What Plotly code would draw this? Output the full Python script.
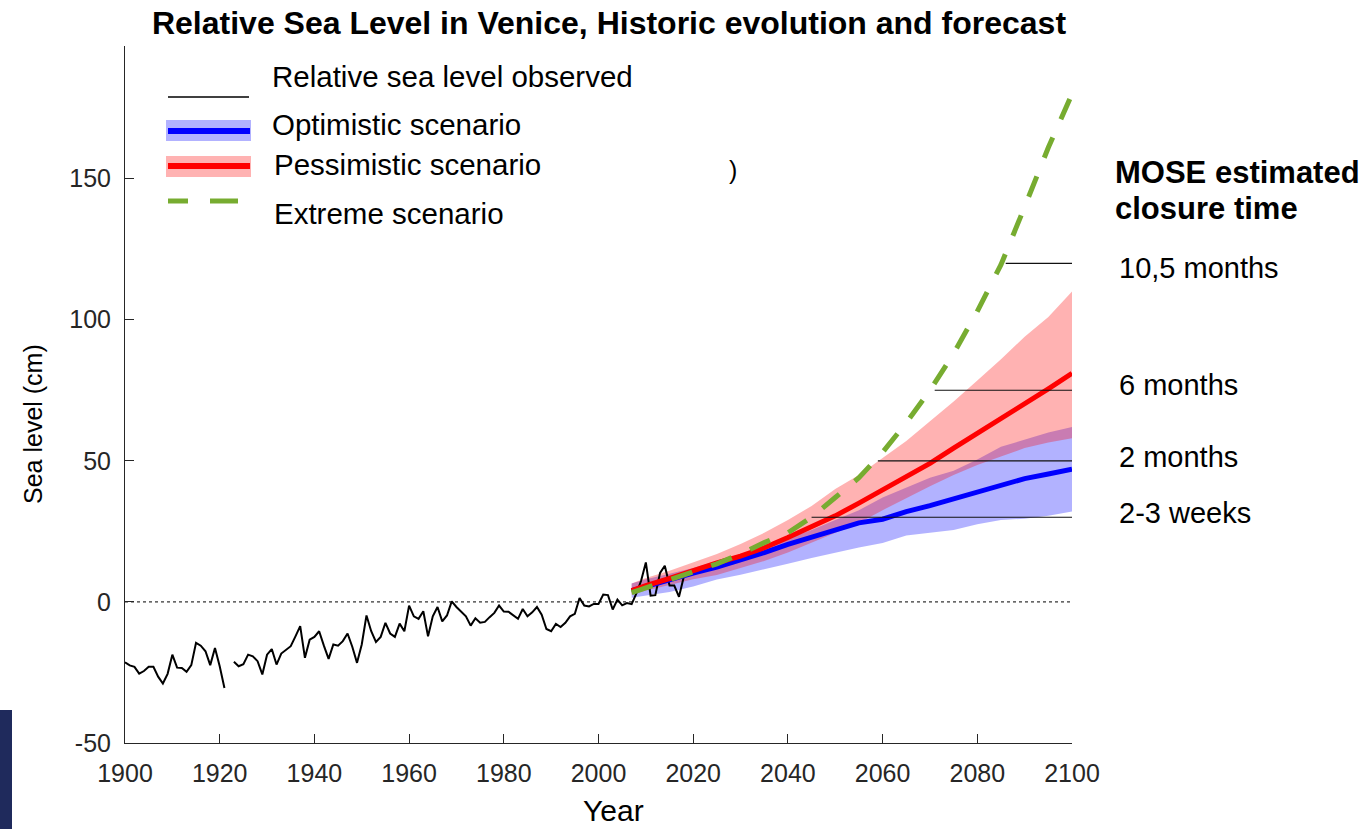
import plotly.graph_objects as go

# ---------------- data ----------------
obs_years = list(range(1900, 2019))
obs_level = [
    -21.4, -22.5, -23.0, -25.4, -24.5, -23.0, -23.0, -26.5, -28.9, -25.5,   # 1900-1909
    -18.7, -23.3, -23.4, -24.8, -22.4, -14.5, -15.5, -17.5, -22.4, -16.3,   # 1910-1919
    -22.8, -30.5, None, -21.2, -22.8, -22.1, -18.7, -19.3, -21.0, -25.7,    # 1920-1929
    -18.7, -16.7, -22.2, -18.3, -17.1, -15.7, -12.2, -8.6, -19.8, -13.4,    # 1930-1939
    -12.4, -10.4, -15.5, -20.2, -15.1, -15.5, -13.9, -11.2, -15.9, -21.6,   # 1940-1949
    -15.1, -4.8, -10.4, -14.2, -12.4, -7.4, -11.2, -12.4, -7.7, -10.4,      # 1950-1959
    -1.3, -5.1, -6.0, -3.3, -12.2, -5.1, -1.8, -6.9, -4.8, 0.2,             # 1960-1969
    -1.8, -3.3, -5.1, -8.4, -5.8, -7.4, -7.1, -5.4, -3.9, -1.3,             # 1970-1979
    -3.4, -3.5, -4.8, -6.0, -2.5, -5.1, -3.7, -1.8, -4.5, -9.6,             # 1980-1989
    -10.4, -7.8, -8.9, -7.4, -5.1, -4.2, 1.4, -1.3, -1.6, -0.7,             # 1990-1999
    -0.7, 2.6, 2.4, -2.7, 0.8, -1.2, -0.4, -0.8, 3.0, 7.5,                  # 2000-2009
    14.0, 2.2, 2.4, 10.3, 12.8, 5.8, 5.8, 1.8, 8.8,                         # 2010-2018
]

proj_years = [2007, 2010, 2015, 2020, 2025, 2030, 2035, 2040, 2045, 2050,
              2055, 2060, 2065, 2070, 2075, 2080, 2085, 2090, 2095, 2100]
opt_mid = [4.0, 5.5, 8.0, 10.2, 12.3, 14.7, 17.5, 20.4, 23.0, 25.8,
           28.0, 29.3, 32.0, 34.1, 36.5, 38.6, 41.0, 43.7, 45.3, 47.0]
opt_low = [1.5, 2.2, 3.5, 5.5, 7.9, 9.6, 11.5, 13.5, 15.6, 17.5,
           19.3, 20.9, 23.5, 24.5, 25.5, 27.5, 29.0, 29.5, 30.5, 32.0]
opt_high = [6.5, 8.0, 10.0, 12.0, 14.5, 17.0, 19.5, 22.5, 25.5, 29.0,
            32.5, 37.0, 40.5, 44.0, 46.5, 50.5, 55.0, 57.5, 60.0, 62.0]
pes_mid = [4.0, 5.8, 8.3, 11.2, 13.8, 16.2, 19.2, 22.8, 26.5, 30.5,
           35.0, 39.6, 44.5, 49.1, 54.5, 59.7, 65.0, 69.8, 75.5, 81.0]
pes_low = [2.5, 4.0, 6.0, 8.0, 9.5, 12.0, 14.5, 17.5, 21.0, 24.5,
           28.0, 32.5, 36.8, 41.0, 45.0, 48.5, 51.5, 54.5, 56.5, 58.0]
pes_high = [6.5, 8.5, 11.0, 14.0, 17.0, 20.5, 24.5, 29.0, 34.0, 40.0,
            45.0, 51.0, 57.0, 64.0, 71.0, 78.5, 86.0, 94.0, 101.0, 110.0]
ext = [3.3, 5.0, 7.8, 10.3, 13.5, 17.0, 21.0, 24.5, 30.0, 37.0,
       44.0, 53.0, 63.5, 75.0, 88.0, 103.0, 119.5, 140.0, 161.0, 180.0]

closure_levels = [120, 75, 50, 30]
closure_start = [2086, 2071, 2059, 2045]
closure_labels = ["10,5 months", "6 months", "2 months", "2-3 weeks"]
closure_label_shift = [-5, 5, 4, 4]   # pixel nudge of labels
dot_offsets = [0.6, 2.2, 3.8]

x_ticks = [1900, 1920, 1940, 1960, 1980, 2000, 2020, 2040, 2060, 2080, 2100]
y_ticks = [-50, 0, 50, 100, 150]
y_tick_text = ["-50", "0", "50", "100", "150"]

legend_labels = ["Relative sea level observed", "Optimistic scenario",
                 "Pessimistic scenario", "Extreme scenario"]

# ---------------- layout geometry ----------------
W, H = 1368, 829
ML, MR, MT, MB = 125, 296, 46, 86
PW, PH = W - ML - MR, H - MT - MB
FONT = "Arial, Liberation Sans, Helvetica, sans-serif"
TXT = "#000000"


def px(xp):
    return (xp - ML) / PW


def py(yp):
    return (H - MB - yp) / PH


BLUE_BAND = "rgba(0,0,255,0.3)"
RED_BAND = "rgba(255,0,0,0.3)"

fig = go.Figure()

# bands
fig.add_trace(go.Scatter(x=proj_years, y=opt_low, mode="lines", line=dict(width=0),
                         showlegend=False, hoverinfo="skip"))
fig.add_trace(go.Scatter(x=proj_years, y=opt_high, mode="lines", line=dict(width=0),
                         fill="tonexty", fillcolor=BLUE_BAND, showlegend=False))
fig.add_trace(go.Scatter(x=proj_years, y=pes_low, mode="lines", line=dict(width=0),
                         showlegend=False, hoverinfo="skip"))
fig.add_trace(go.Scatter(x=proj_years, y=pes_high, mode="lines", line=dict(width=0),
                         fill="tonexty", fillcolor=RED_BAND, showlegend=False))

# zero line
fig.add_trace(go.Scatter(x=[x_ticks[0], x_ticks[-1]], y=[0, 0], mode="lines",
                         line=dict(color="#000000", width=1, dash="dot"),
                         showlegend=False))

# observed
fig.add_trace(go.Scatter(x=obs_years, y=obs_level, mode="lines",
                         line=dict(color="#000000", width=2), connectgaps=False,
                         showlegend=False))

# central lines
fig.add_trace(go.Scatter(x=proj_years, y=opt_mid, mode="lines",
                         line=dict(color="#0000FF", width=5), showlegend=False))
fig.add_trace(go.Scatter(x=proj_years, y=pes_mid, mode="lines",
                         line=dict(color="#FF0000", width=5), showlegend=False))
fig.add_trace(go.Scatter(x=proj_years, y=ext, mode="lines",
                         line=dict(color="#77AC30", width=5, dash="22px,20px"),
                         showlegend=False))

# closure threshold lines + dotted extension
for lvl, start, lab, sh in zip(closure_levels, closure_start, closure_labels, closure_label_shift):
    fig.add_trace(go.Scatter(x=[start, x_ticks[-1]], y=[lvl, lvl], mode="lines",
                             line=dict(color="#111111", width=1.2), showlegend=False))
    fig.add_trace(go.Scatter(x=[x_ticks[-1] + d for d in dot_offsets], y=[lvl] * len(dot_offsets),
                             mode="markers", cliponaxis=False,
                             marker=dict(symbol="square", size=2.5, color="#000000"),
                             showlegend=False))
    fig.add_annotation(x=px(1117), xref="paper", y=lvl, yref="y", text=lab, yshift=sh,
                       showarrow=False, xanchor="left", yanchor="middle",
                       font=dict(family=FONT, size=29, color=TXT))

for txt, yy in [("<b>MOSE estimated</b>", 172), ("<b>closure time</b>", 208)]:
    fig.add_annotation(x=px(1113), xref="paper", y=py(yy), yref="paper",
                       text=txt, showarrow=False, xanchor="left", yanchor="middle",
                       font=dict(family=FONT, size=31, color=TXT))

# stray bracket
fig.add_annotation(x=px(733), xref="paper", y=py(170), yref="paper", text=")",
                   showarrow=False, xanchor="center", yanchor="middle",
                   font=dict(family=FONT, size=25, color=TXT))

# axis titles
fig.add_annotation(x=px(613), xref="paper", y=py(810), yref="paper", text="Year",
                   showarrow=False, xanchor="center", yanchor="middle",
                   font=dict(family=FONT, size=30, color=TXT))
fig.add_annotation(x=px(33), xref="paper", y=py(424), yref="paper", text="Sea level (cm)",
                   showarrow=False, xanchor="center", yanchor="middle", textangle=-90,
                   font=dict(family=FONT, size=25, color=TXT))

# -------- manual legend --------
shapes = []
shapes.append(dict(type="line", xref="paper", yref="paper", x0=px(168), x1=px(249),
                   y0=py(97), y1=py(97), line=dict(color="#000000", width=1.3)))
shapes.append(dict(type="rect", xref="paper", yref="paper", x0=px(166), x1=px(251),
                   y0=py(141), y1=py(120), fillcolor=BLUE_BAND, line=dict(width=0)))
shapes.append(dict(type="line", xref="paper", yref="paper", x0=px(168), x1=px(250),
                   y0=py(131), y1=py(131), line=dict(color="#0000FF", width=6)))
shapes.append(dict(type="rect", xref="paper", yref="paper", x0=px(166), x1=px(251),
                   y0=py(177), y1=py(156), fillcolor=RED_BAND, line=dict(width=0)))
shapes.append(dict(type="line", xref="paper", yref="paper", x0=px(168), x1=px(250),
                   y0=py(166), y1=py(166), line=dict(color="#FF0000", width=6)))
for a, b in [(168, 188), (210, 238)]:
    shapes.append(dict(type="line", xref="paper", yref="paper", x0=px(a), x1=px(b),
                       y0=py(201), y1=py(201), line=dict(color="#77AC30", width=5)))
shapes.append(dict(type="rect", xref="paper", yref="paper", x0=px(0), x1=px(12),
                   y0=py(829), y1=py(710), fillcolor="#1F2A5C", line=dict(width=0)))

for lab, (lx, ly) in zip(legend_labels, [(270, 77), (270, 124), (272, 164), (272, 213)]):
    fig.add_annotation(x=px(lx), xref="paper", y=py(ly), yref="paper", text=lab,
                       showarrow=False, xanchor="left", yanchor="middle",
                       font=dict(family=FONT, size=29.5, color=TXT))

fig.update_layout(
    width=W, height=H,
    margin=dict(l=ML, r=MR, t=MT, b=MB, pad=0),
    paper_bgcolor="white", plot_bgcolor="white",
    shapes=shapes,
    showlegend=False,
    title=dict(text="Relative Sea Level in Venice, Historic evolution and forecast",
               x=609 / W, xref="container", xanchor="center",
               y=1 - 23 / H, yref="container", yanchor="middle",
               font=dict(family=FONT, size=32, color=TXT, weight="bold")),
    font=dict(family=FONT, color="#262626"),
)

fig.update_xaxes(range=[1900, 2100], tickvals=x_ticks, ticks="inside", ticklen=9,
                 tickcolor="#262626", showline=True, linecolor="#262626", linewidth=1,
                 showgrid=False, zeroline=False, mirror=False,
                 tickfont=dict(family=FONT, size=25, color="#262626"),
                 ticklabelstandoff=8)
fig.update_yaxes(range=[-50, 197], tickvals=y_ticks, ticktext=y_tick_text,
                 ticks="inside", ticklen=9,
                 tickcolor="#262626", showline=True, linecolor="#262626", linewidth=1,
                 showgrid=False, zeroline=False, mirror=False,
                 tickfont=dict(family=FONT, size=25, color="#262626"),
                 ticklabelstandoff=8)

fig.write_html("out.html", config={"displayModeBar": False},
               post_script="document.body.style.margin='0';document.body.style.overflow='hidden';")
